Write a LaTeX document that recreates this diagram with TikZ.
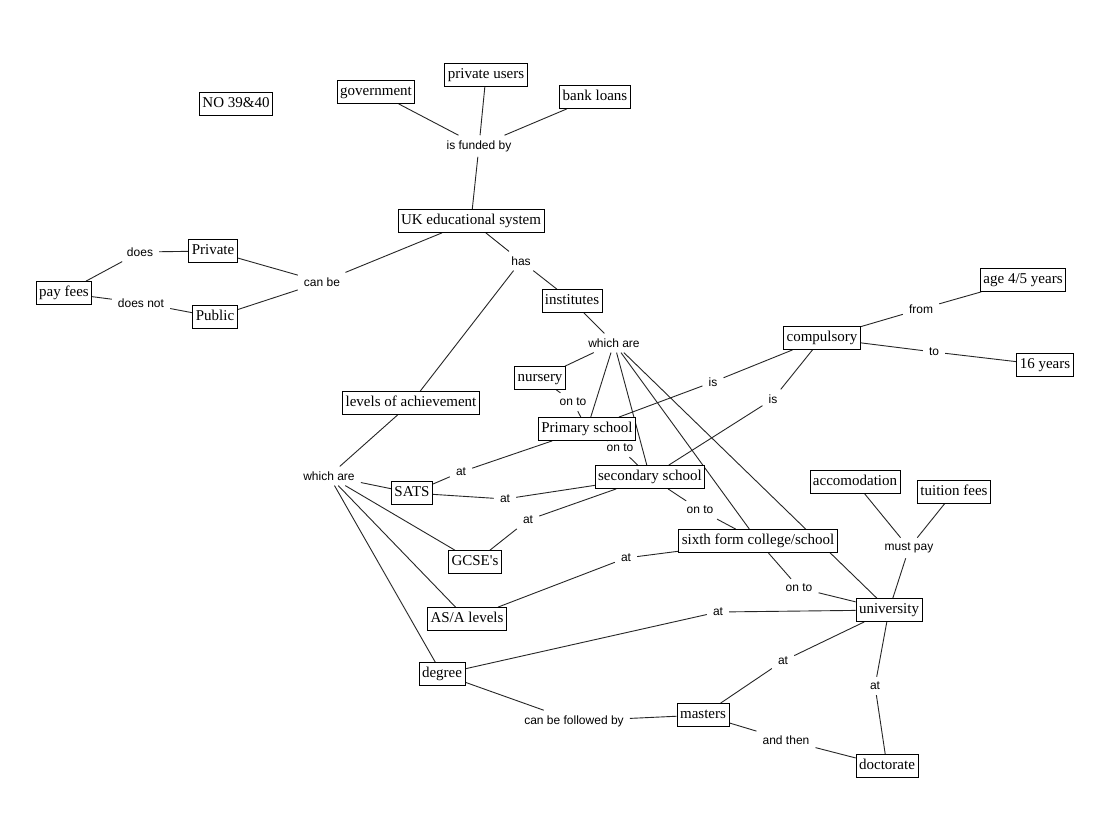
\documentclass[tikz,border=0pt]{standalone}
\usepackage{fontspec}
\setmainfont{Liberation Serif}
\newfontfamily\lsans{Liberation Sans}
\pgfdeclarelayer{bg}
\pgfsetlayers{bg,main}
\begin{document}
\begin{tikzpicture}[x=1pt,y=-1pt,
 box/.style={draw, fill=white, line width=0.8pt, font=\fontsize{15}{18}\selectfont, inner xsep=3pt, inner ysep=4pt, text height=11pt, text depth=4pt},
 lab/.style={font=\lsans\fontsize{12}{14}\selectfont, inner xsep=6pt, inner ysep=5pt},
 con/.style={line width=0.9pt, black!85}]
\useasboundingbox (0,0) rectangle (1116,817);
\node[box] (no) at (236,104) {NO 39\&40};
\node[box] (gov) at (376,92) {government};
\node[box] (pu) at (486,75) {private users};
\node[box] (bank) at (595,97) {bank loans};
\node[lab] (funded) at (479,146) {is funded by};
\node[box] (uk) at (471,221) {UK educational system};
\node[lab] (canbe) at (322,282) {can be};
\node[box] (priv) at (213,251) {Private};
\node[box] (pub) at (215,317) {Public};
\node[box] (pay) at (64,293) {pay fees};
\node[lab] (does) at (140,252) {does};
\node[lab] (doesnot) at (141,303) {does not};
\node[lab] (has) at (521,261) {has};
\node[box] (inst) at (572,301) {institutes};
\node[lab] (wa1) at (614,343) {which are};
\node[box] (nur) at (540,378) {nursery};
\node[lab] (onto1) at (573,402) {on to};
\node[box] (prim) at (587,429) {Primary school};
\node[lab] (onto2) at (620,448) {on to};
\node[box] (sec) at (650,477) {secondary school};
\node[lab] (onto3) at (700,510) {on to};
\node[box] (sixth) at (758,541) {sixth form college/school};
\node[lab] (onto4) at (799,588) {on to};
\node[box] (uni) at (889,610) {university};
\node[box] (comp) at (822,338) {compulsory};
\node[lab] (from) at (921,309) {from};
\node[box] (age) at (1023,280) {age 4/5 years};
\node[lab] (to) at (934,352) {to};
\node[box] (sixteen) at (1045,365) {16 years};
\node[lab] (is1) at (713,382) {is};
\node[lab] (is2) at (773,399) {is};
\node[box] (levels) at (411,403) {levels of achievement};
\node[lab] (wa2) at (329,476) {which are};
\node[box] (sats) at (412,493) {SATS};
\node[lab] (at1) at (461,472) {at};
\node[lab] (at2) at (505,499) {at};
\node[lab] (at3) at (528,520) {at};
\node[box] (gcse) at (475,562) {GCSE\textquotesingle s};
\node[box] (asa) at (467,619) {AS/A levels};
\node[lab] (at4) at (626,558) {at};
\node[box] (deg) at (442,674) {degree};
\node[lab] (at5) at (718,612) {at};
\node[lab] (cbf) at (574,721) {can be followed by};
\node[box] (mast) at (703,715) {masters};
\node[lab] (andthen) at (786,740) {and then};
\node[box] (doc) at (887,766) {doctorate};
\node[lab] (at6) at (783,661) {at};
\node[lab] (at7) at (875,686) {at};
\node[box] (acc) at (855,482) {accomodation};
\node[box] (tui) at (954,492) {tuition fees};
\node[lab] (must) at (909,548) {must pay};
\begin{pgfonlayer}{bg}
\fill[white] (0,0) rectangle (1116,817);
\draw[con] (gov)--(funded) (pu)--(funded) (bank)--(funded) (funded)--(uk);
\draw[con] (uk)--(canbe) (canbe)--(priv) (canbe)--(pub) (priv)--(does) (does)--(pay) (pay)--(doesnot) (doesnot)--(pub);
\draw[con] (uk)--(has) (has)--(inst) (has)--(levels);
\draw[con] (inst)--(wa1) (wa1)--(nur) (wa1)--(prim) (wa1)--(sec) (wa1)--(sixth) (wa1)--(uni);
\draw[con] (nur)--(onto1) (onto1)--(prim) (prim)--(onto2) (onto2)--(sec) (sec)--(onto3) (onto3)--(sixth) (sixth)--(onto4) (onto4)--(uni);
\draw[con] (prim)--(is1) (is1)--(comp) (sec)--(is2) (is2)--(comp) (comp)--(from) (from)--(age) (comp)--(to) (to)--(sixteen);
\draw[con] (levels)--(wa2) (wa2)--(sats) (wa2)--(gcse) (wa2)--(asa) (wa2)--(deg);
\draw[con] (sats)--(at1) (at1)--(prim) (sats)--(at2) (at2)--(sec) (gcse)--(at3) (at3)--(sec) (asa)--(at4) (at4)--(sixth);
\draw[con] (deg)--(at5) (at5)--(uni) (deg)--(cbf) (cbf)--(mast) (mast)--(at6) (at6)--(uni) (mast)--(andthen) (andthen)--(doc) (doc)--(at7) (at7)--(uni);
\draw[con] (acc)--(must) (tui)--(must) (must)--(uni);
\end{pgfonlayer}
\end{tikzpicture}
\end{document}
